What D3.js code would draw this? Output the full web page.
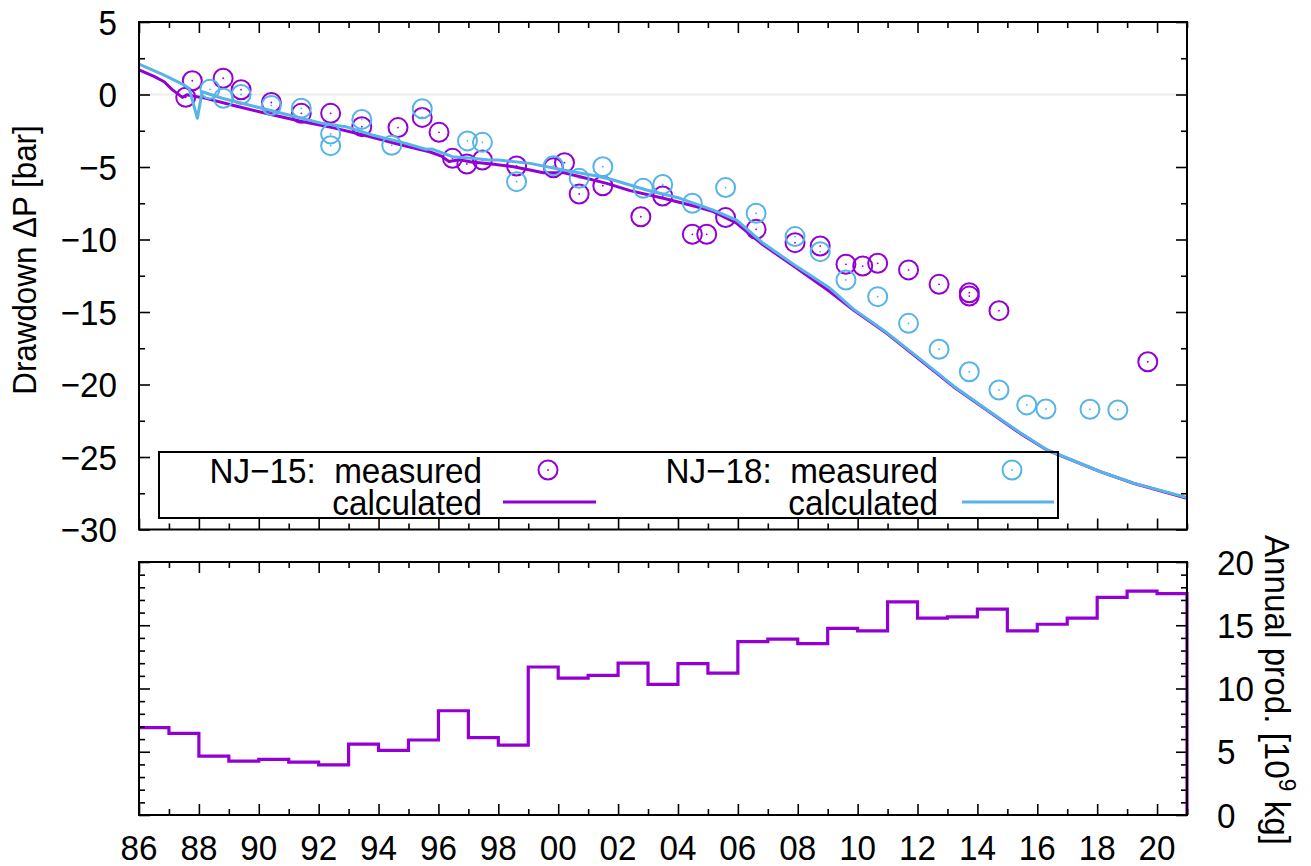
<!DOCTYPE html>
<html>
<head>
<meta charset="utf-8">
<script src="https://cdn.jsdelivr.net/npm/d3@7"></script>
<style>
  body { margin: 0; background: #fff; }
  svg { display: block; font-family: "Liberation Sans", Arial, sans-serif; }
  text { white-space: pre; }
</style>
</head>
<body>
<svg id="chart" width="1311" height="866"></svg>
<script>
// measured drawdown [year, bar]
const nj15Measured = [
  [1987.56, -0.19], [1987.78, 0.95], [1988.81, 1.12], [1989.41, 0.33], [1990.42, -0.55],
  [1991.42, -1.3], [1992.4, -1.3], [1993.44, -2.22], [1994.65, -2.28], [1995.46, -1.58],
  [1996.02, -2.61], [1996.47, -4.4], [1996.95, -4.79], [1997.47, -4.52], [1998.61, -4.93],
  [1999.84, -5.05], [2000.21, -4.7], [2000.7, -6.86], [2001.49, -6.29], [2002.76, -8.43],
  [2003.49, -7.0], [2004.48, -9.64], [2004.96, -9.64], [2005.59, -8.49], [2006.61, -9.3],
  [2007.91, -10.22], [2008.75, -10.45], [2009.61, -11.71], [2010.17, -11.83], [2010.67, -11.64],
  [2011.7, -12.1], [2012.72, -13.09], [2013.73, -13.67], [2013.73, -13.9], [2014.72, -14.91],
  [2019.69, -18.43],
];

const nj18Measured = [
  [1988.37, 0.36], [1988.82, -0.26], [1989.41, 0.0], [1990.42, -0.75], [1991.42, -0.95],
  [1992.4, -2.72], [1992.4, -3.53], [1993.44, -1.72], [1994.44, -3.5], [1995.46, -0.98],
  [1996.97, -3.2], [1997.47, -3.3], [1998.61, -6.01], [1999.84, -4.91], [2000.7, -5.78],
  [2001.49, -4.98], [2002.84, -6.47], [2003.49, -6.2], [2004.48, -7.5], [2005.59, -6.42],
  [2006.61, -8.19], [2007.91, -9.8], [2008.75, -10.84], [2009.61, -12.79], [2010.67, -13.94],
  [2011.7, -15.78], [2012.72, -17.57], [2013.73, -19.12], [2014.72, -20.38], [2015.65, -21.41],
  [2016.29, -21.69], [2017.76, -21.71], [2018.69, -21.76],
];

// calculated drawdown [year, bar]
const nj15Calculated = [
  [1986.0, 1.7], [1986.5, 1.25], [1986.84, 0.88], [1987.1, 0.35], [1987.45, -0.2],
  [1987.6, -0.02], [1987.8, -0.1], [1988.2, -0.25], [1989.2, -0.78], [1990.3, -1.33],
  [1991.4, -1.85], [1992.5, -2.3], [1993.6, -2.85], [1994.7, -3.45], [1995.7, -3.95],
  [1996.1, -4.25], [1996.35, -4.62], [1996.7, -4.5], [1997.1, -4.65], [1997.7, -4.78],
  [1998.5, -4.98], [1999.06, -5.21], [1999.5, -5.39], [2000.17, -5.39], [2000.73, -5.67],
  [2001.62, -6.13], [2002.4, -6.63], [2003.51, -7.16], [2004.63, -7.74], [2005.18, -8.08],
  [2005.96, -8.88], [2006.85, -10.38], [2007.97, -11.99], [2009.08, -13.6], [2009.86, -14.86],
  [2010.97, -16.47], [2012.09, -18.31], [2013.2, -20.15], [2014.31, -21.76], [2015.43, -23.37],
  [2016.32, -24.52], [2018.1, -26.01], [2019.21, -26.81], [2021.0, -27.85],
];

const nj18Calculated = [
  [1986.0, 2.1], [1986.84, 1.34], [1987.5, 0.66], [1987.67, 0.43], [1987.95, -1.64],
  [1988.11, 0.19], [1988.78, -0.26], [1989.9, -0.84], [1991.0, -1.41], [1992.12, -1.99],
  [1992.9, -2.22], [1993.79, -2.79], [1994.91, -3.37], [1995.58, -3.78], [1995.8, -3.76],
  [1996.02, -3.94], [1996.46, -4.29], [1997.13, -4.4], [1997.69, -4.52], [1998.0, -4.52],
  [1999.06, -4.75], [2000.17, -5.21], [2001.29, -5.62], [2001.84, -5.9], [2002.95, -6.59],
  [2004.07, -7.16], [2005.18, -7.97], [2005.96, -8.66], [2006.85, -10.26], [2007.97, -11.87],
  [2009.08, -13.37], [2009.86, -14.8], [2010.97, -16.42], [2012.09, -18.25], [2013.2, -20.1],
  [2014.31, -21.72], [2015.43, -23.33], [2016.32, -24.5], [2018.1, -26.0], [2019.21, -26.8],
  [2021.0, -27.8],
];

// annual production [10^9 kg], one value per year starting at prodYears[i]
const prodYears = [
  1986, 1987, 1988, 1989, 1990, 1991, 1992, 1993, 1994, 1995, 1996, 1997,
  1998, 1999, 2000, 2001, 2002, 2003, 2004, 2005, 2006, 2007, 2008, 2009,
  2010, 2011, 2012, 2013, 2014, 2015, 2016, 2017, 2018, 2019, 2020, 2021,
];
const prodValues = [
  6.91, 6.46, 4.65, 4.26, 4.39, 4.18, 3.96, 5.61, 5.11, 5.93, 8.24, 6.12,
  5.53, 11.7, 10.82, 11.04, 12.0, 10.32, 11.97, 11.22, 13.7, 13.9, 13.54, 14.76,
  14.55, 16.84, 15.56, 15.66, 16.28, 14.55, 15.08, 15.56, 17.2, 17.69, 17.5, 0,
];

const xMajor = [1986, 1988, 1990, 1992, 1994, 1996, 1998, 2000, 2002, 2004, 2006, 2008, 2010, 2012, 2014, 2016, 2018, 2020];
const xMinor = [1987, 1989, 1991, 1993, 1995, 1997, 1999, 2001, 2003, 2005, 2007, 2009, 2011, 2013, 2015, 2017, 2019, 2021];
const topMajor = [5, 0, -5, -10, -15, -20, -25, -30];
const topMinor = [2.5, -2.5, -7.5, -12.5, -17.5, -22.5, -27.5];
const botMajor = [0, 5, 10, 15, 20];
const botMinor = [1, 2, 3, 4, 6, 7, 8, 9, 11, 12, 13, 14, 16, 17, 18, 19];

const PURPLE = "#9400d3";
const CYAN = "#56b4e9";

const plotLeft = 139, plotRight = 1187;
const top1 = 22, bot1 = 529.5;
const top2 = 562, bot2 = 815;
const SQUEEZE = 0.95;

const svg = d3.select("#chart");

const x = d3.scaleLinear().domain([1986, 2021]).range([plotLeft, plotRight]);
const yP = d3.scaleLinear().domain([-30, 5]).range([bot1, top1]);
const yQ = d3.scaleLinear().domain([0, 20]).range([bot2, top2]);

// text is a little narrow in the original, so squeeze it horizontally
function addText(g, px, py, str, { size = 35, anchor = "middle", rotate = 0 } = {}) {
  return g
    .append("text")
    .attr("transform", `translate(${px},${py}) rotate(${rotate}) scale(${SQUEEZE},1)`)
    .attr("text-anchor", anchor)
    .attr("font-size", size)
    .attr("fill", "#000")
    .text(str);
}

function fmtNeg(v) {
  return v < 0 ? `\u2212${Math.abs(v)}` : `${v}`;
}

function drawTicks(g, axisFn, scale, values, size, transform) {
  g.append("g")
    .attr("transform", transform)
    .call(axisFn(scale).tickValues(values).tickSize(size).tickFormat(""))
    .call((s) => s.select(".domain").remove())
    .call((s) => s.selectAll("line").attr("stroke", "#000").attr("stroke-width", 1.6));
}

const defs = svg.append("defs");
defs.append("clipPath").attr("id", "clip-top")
  .append("rect")
  .attr("x", plotLeft).attr("y", top1)
  .attr("width", plotRight - plotLeft).attr("height", bot1 - top1);
defs.append("clipPath").attr("id", "clip-bot")
  .append("rect")
  .attr("x", plotLeft).attr("y", top2 - 2)
  .attr("width", plotRight - plotLeft + 2).attr("height", bot2 - top2 + 2);

// ---------- top panel ----------
const gTop = svg.append("g");

gTop.append("line")
  .attr("x1", plotLeft).attr("x2", plotRight)
  .attr("y1", yP(0)).attr("y2", yP(0))
  .attr("stroke", "#ececec")
  .attr("stroke-width", 2);

const lineP = d3.line().x((d) => x(d[0])).y((d) => yP(d[1]));
const gData = gTop.append("g").attr("clip-path", "url(#clip-top)");

const PT_R = 9.5;

function drawPoints(g, rows, color) {
  const pts = g.append("g")
    .selectAll("g")
    .data(rows)
    .join("g")
    .attr("transform", (d) => `translate(${x(d[0])},${yP(d[1])})`);
  pts.append("circle").attr("r", PT_R).attr("fill", "none").attr("stroke", color).attr("stroke-width", 2);
  pts.append("circle").attr("r", 0.9).attr("fill", color);
}

drawPoints(gData, nj15Measured, PURPLE);
gData.append("path").datum(nj15Calculated)
  .attr("d", lineP).attr("fill", "none")
  .attr("stroke", PURPLE).attr("stroke-width", 3).attr("stroke-linejoin", "round");
drawPoints(gData, nj18Measured, CYAN);
gData.append("path").datum(nj18Calculated)
  .attr("d", lineP).attr("fill", "none")
  .attr("stroke", CYAN).attr("stroke-width", 3).attr("stroke-linejoin", "round");

drawTicks(gTop, d3.axisBottom, x, xMajor, -11, `translate(0,${bot1})`);
drawTicks(gTop, d3.axisBottom, x, xMinor, -6, `translate(0,${bot1})`);
drawTicks(gTop, d3.axisTop, x, xMajor, -11, `translate(0,${top1})`);
drawTicks(gTop, d3.axisTop, x, xMinor, -6, `translate(0,${top1})`);
drawTicks(gTop, d3.axisLeft, yP, topMajor, -11, `translate(${plotLeft},0)`);
drawTicks(gTop, d3.axisLeft, yP, topMinor, -6, `translate(${plotLeft},0)`);
drawTicks(gTop, d3.axisRight, yP, topMajor, -11, `translate(${plotRight},0)`);
drawTicks(gTop, d3.axisRight, yP, topMinor, -6, `translate(${plotRight},0)`);

gTop.append("rect")
  .attr("x", plotLeft).attr("y", top1)
  .attr("width", plotRight - plotLeft).attr("height", bot1 - top1)
  .attr("fill", "none").attr("stroke", "#000").attr("stroke-width", 2);

topMajor.forEach((v) => {
  addText(gTop, 117, yP(v) + 12.5, fmtNeg(v), { anchor: "end" });
});

addText(gTop, 36, 260, "Drawdown \u0394P [bar]", { size: 33, rotate: -90 });

// legend
const gLeg = svg.append("g");
gLeg.append("rect")
  .attr("x", 159).attr("y", 452)
  .attr("width", 1058 - 159).attr("height", 518 - 452)
  .attr("fill", "none").attr("stroke", "#000").attr("stroke-width", 2);

const legRow1 = 470, legRow2 = 502;
const legendCols = [
  { name: "NJ\u221215:  measured", textRight: 482, sym: 548, lineX: [503, 596], color: PURPLE },
  { name: "NJ\u221218:  measured", textRight: 938, sym: 1012, lineX: [962, 1054], color: CYAN },
];
legendCols.forEach((c) => {
  addText(gLeg, c.textRight, legRow1 + 12.5, c.name, { anchor: "end" });
  addText(gLeg, c.textRight, legRow2 + 12.5, "calculated", { anchor: "end" });
  gLeg.append("circle").attr("cx", c.sym).attr("cy", legRow1).attr("r", PT_R)
    .attr("fill", "none").attr("stroke", c.color).attr("stroke-width", 2);
  gLeg.append("circle").attr("cx", c.sym).attr("cy", legRow1).attr("r", 0.9).attr("fill", c.color);
  gLeg.append("line")
    .attr("x1", c.lineX[0]).attr("x2", c.lineX[1])
    .attr("y1", legRow2).attr("y2", legRow2)
    .attr("stroke", c.color).attr("stroke-width", 3);
});

// ---------- bottom panel ----------
const gBot = svg.append("g");
const prodRows = prodYears.map((yr, i) => [yr, prodValues[i]]);

gBot.append("path").datum(prodRows)
  .attr("clip-path", "url(#clip-bot)")
  .attr("d", d3.line().curve(d3.curveStepAfter).x((d) => x(d[0])).y((d) => yQ(d[1])))
  .attr("fill", "none")
  .attr("stroke", PURPLE)
  .attr("stroke-width", 3.2);

drawTicks(gBot, d3.axisBottom, x, xMajor, -11, `translate(0,${bot2})`);
drawTicks(gBot, d3.axisBottom, x, xMinor, -6, `translate(0,${bot2})`);
drawTicks(gBot, d3.axisTop, x, xMajor, -11, `translate(0,${top2})`);
drawTicks(gBot, d3.axisTop, x, xMinor, -6, `translate(0,${top2})`);
drawTicks(gBot, d3.axisLeft, yQ, botMajor, -11, `translate(${plotLeft},0)`);
drawTicks(gBot, d3.axisLeft, yQ, botMinor, -6, `translate(${plotLeft},0)`);
drawTicks(gBot, d3.axisRight, yQ, botMajor, -11, `translate(${plotRight},0)`);
drawTicks(gBot, d3.axisRight, yQ, botMinor, -6, `translate(${plotRight},0)`);

gBot.append("rect")
  .attr("x", plotLeft).attr("y", top2)
  .attr("width", plotRight - plotLeft).attr("height", bot2 - top2)
  .attr("fill", "none").attr("stroke", "#000").attr("stroke-width", 2);

xMajor.forEach((yr) => {
  addText(gBot, x(yr), 860, String(yr % 100).padStart(2, "0"));
});
botMajor.forEach((v) => {
  addText(gBot, 1217, yQ(v) + 12.5, String(v), { anchor: "start" });
});

const rLab = gBot.append("text")
  .attr("transform", `translate(1265,690) rotate(90) scale(${SQUEEZE},1)`)
  .attr("text-anchor", "middle")
  .attr("font-size", 35)
  .attr("fill", "#000");
rLab.append("tspan").text("Annual prod. [10");
rLab.append("tspan").attr("font-size", 24).attr("dy", -14).text("9");
rLab.append("tspan").attr("dy", 14).text(" kg]");
</script>
</body>
</html>
